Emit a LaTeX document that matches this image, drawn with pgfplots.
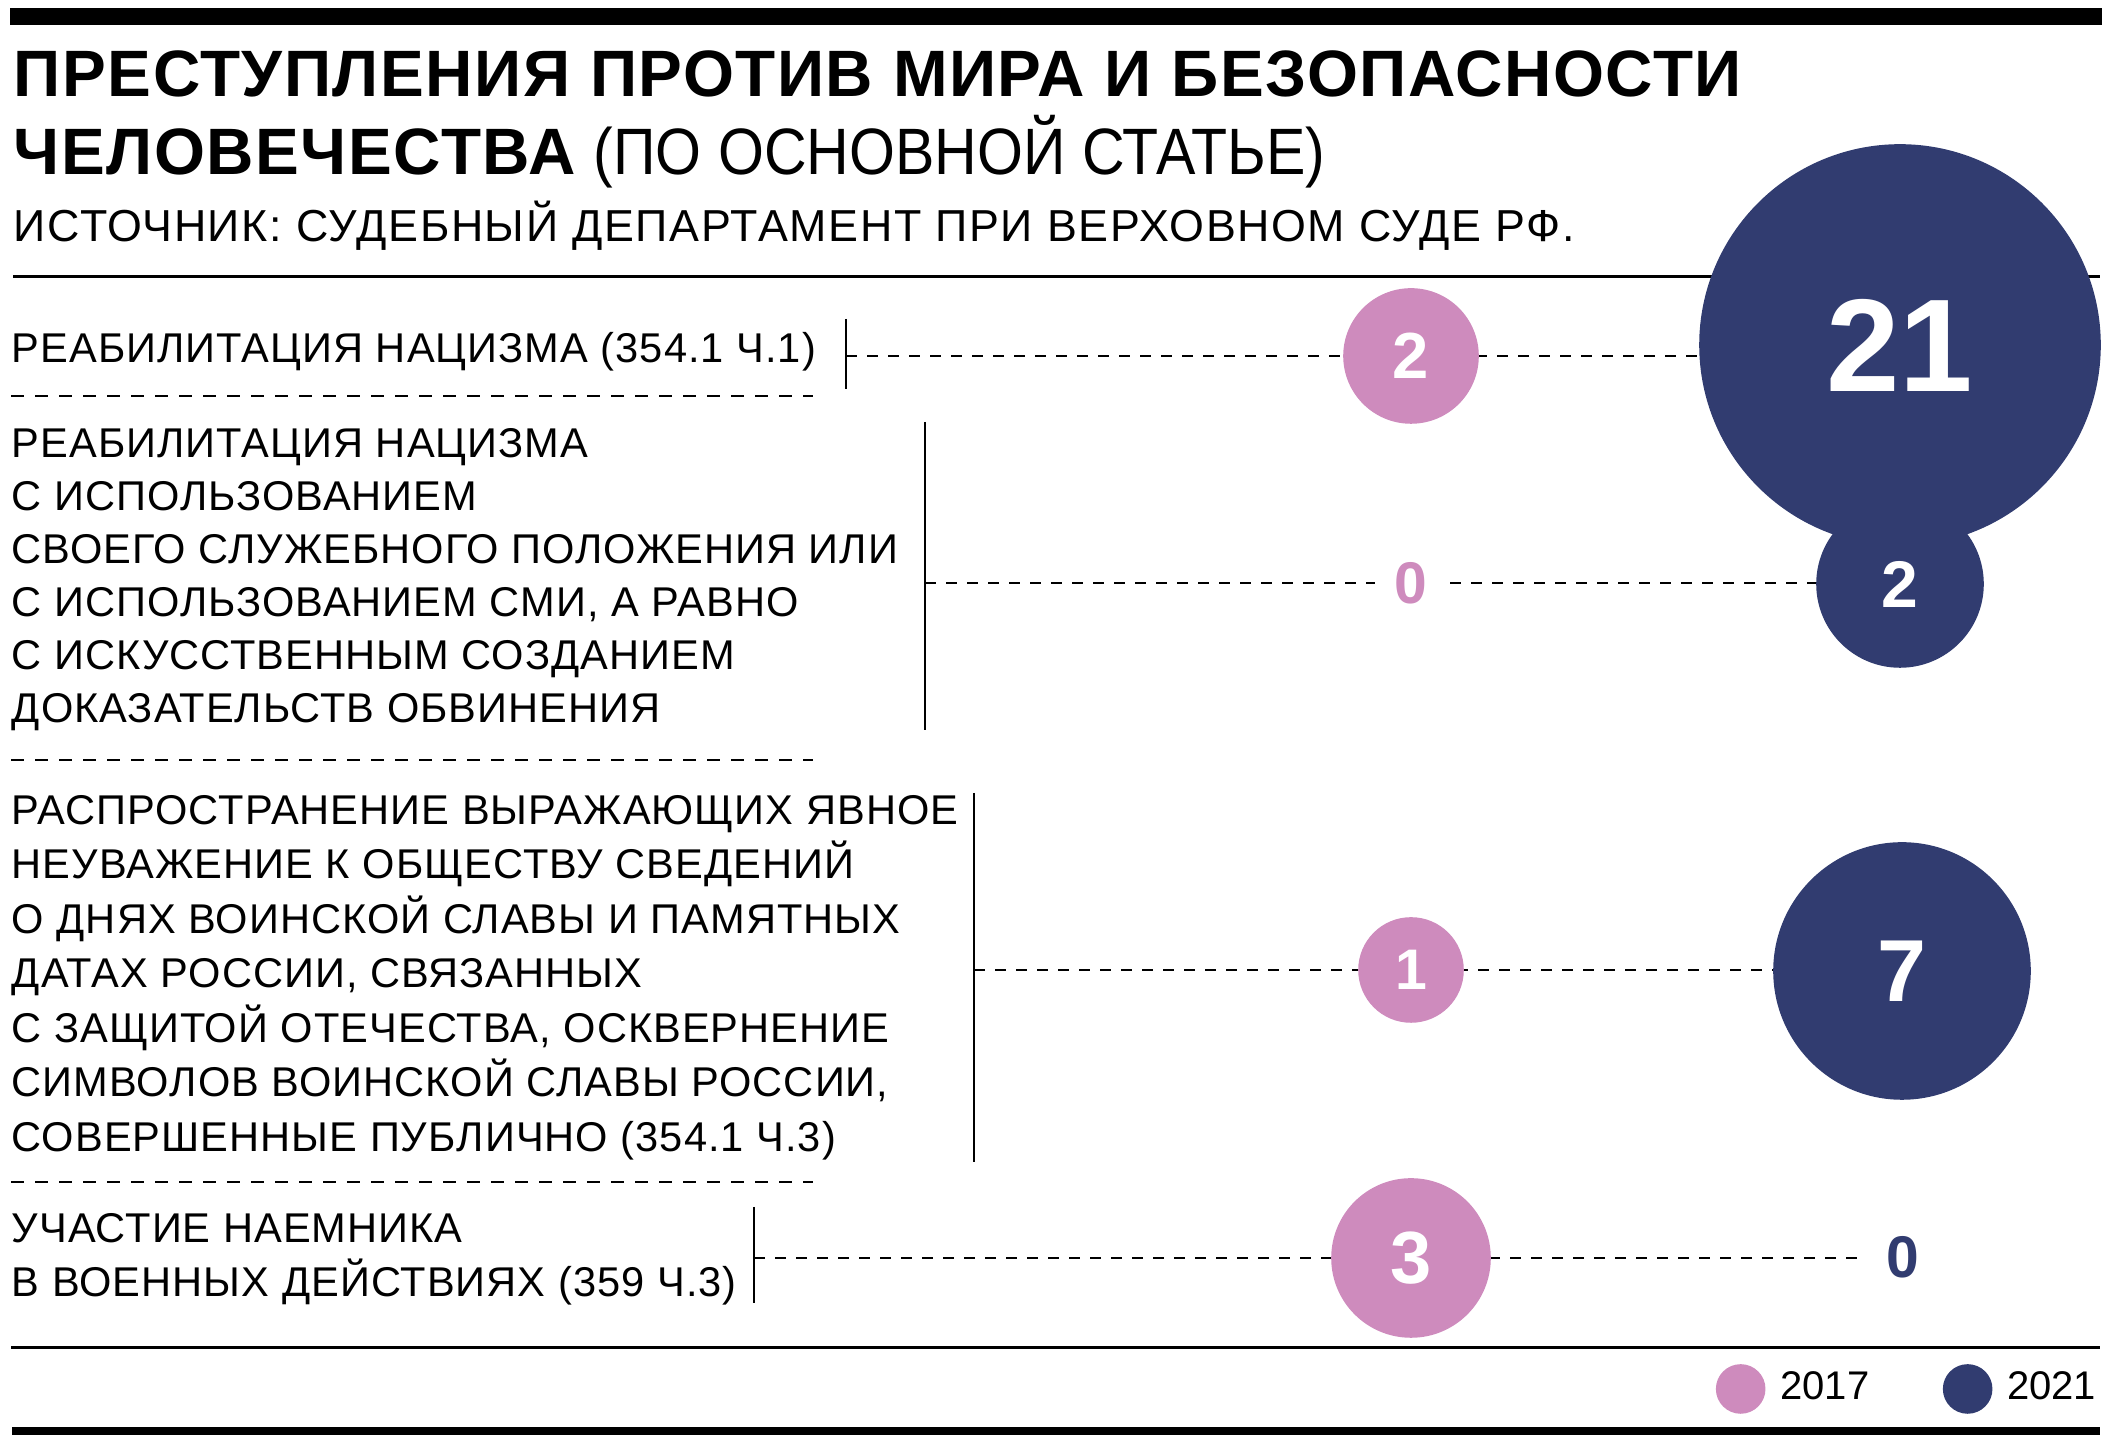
\documentclass[border=0pt]{standalone}
\usepackage{pgfplots}
\pgfplotsset{compat=1.18}
\usepackage{pgfplotstable}
\usepackage{fontspec}
\setmainfont{Liberation Sans}
\newfontfamily\labfont[LetterSpace=2.5]{Liberation Sans}
\newfontfamily\subfont[LetterSpace=3.6]{Liberation Sans}
\newfontfamily\headfont[LetterSpace=2.3]{Liberation Sans}
\newfontfamily\condfont[FakeStretch=0.9]{Liberation Sans}

\definecolor{pinkc}{HTML}{CE8BBD}
\definecolor{navyc}{HTML}{313C70}
\setlength{\fboxsep}{5pt}

% x, y: bubble centre (px of the 2112x1452 picture, y from the bottom), v: count, r: radius (px), fs: label size (pt)
\pgfplotstableread{
x    y    v  r   fs
1411 1096 2  67  16.3
1411 869  0  0   14.7
1411 482  1  52  14.3
1411 194  3  79  18.5
}\yearA
\pgfplotstableread{
x    y    v  r   fs
1900 1107 21 200 33
1900 868  2  83  16.5
1902 481  7  128 22
1903 195  0  0   14.7
}\yearB

\tikzset{lab/.style={anchor=base west, inner sep=0pt, font=\labfont\fontsize{10.4}{10.4}\selectfont}}
\pgfplotsset{
  bubble/.style={scatter, only marks, mark=*,
    visualization depends on={\thisrow{r} \as \rad},
    scatter/use mapped color={draw=#1, fill=#1, mark size=\rad/4},
    legend image code/.code={\fill[#1] (0pt,0pt) circle (6pt);}},
  valuelabel/.style={draw=none, mark=none, forget plot,
    /pgf/number format/assume math mode=true,
    visualization depends on={\thisrow{v} \as \val},
    visualization depends on={\thisrow{fs} \as \fsz},
    nodes near coords={\bfseries\fontsize{\fsz}{\fsz}\selectfont\ifdim\val pt=0pt \colorbox{white}{\textcolor{#1}{0}}\else\textcolor{white}{\pgfmathprintnumber{\val}}\fi},
    nodes near coords style={anchor=center, inner sep=0pt}},
}

\begin{document}
\begin{tikzpicture}
\begin{axis}[
    x=0.25pt, y=0.25pt,
    xmin=0, xmax=2112, ymin=0, ymax=1452,
    hide axis, clip=false,
    legend style={at={(axis description cs:0.9967,0.0434)}, anchor=east, draw=none, fill=none, inner sep=0pt,
        legend columns=-1, font=\fontsize{10}{10}\selectfont,
        /tikz/every odd column/.append style={column sep=1.7pt},
        /tikz/every even column/.append style={column sep=16.4pt}},
]
\coordinate (BL) at (axis cs:0,0);
\coordinate (TR) at (axis cs:2112,1452);

% frame lines
\draw[line width=4.25pt] (axis cs:10,1435.5) -- (axis cs:2102,1435.5);
\draw[line width=0.75pt] (axis cs:13,1175) -- (axis cs:2100,1175);
\draw[line width=0.75pt] (axis cs:11,104) -- (axis cs:2100,104);
\draw[line width=2pt] (axis cs:12,21) -- (axis cs:2100,21);

% title
\node[anchor=base west, inner sep=0pt, font=\headfont\bfseries\fontsize{16.4}{16.4}\selectfont] at (axis cs:13,1355) {ПРЕСТУПЛЕНИЯ ПРОТИВ МИРА И БЕЗОПАСНОСТИ};
\node[anchor=base west, inner sep=0pt, font=\fontsize{16.4}{16.4}\selectfont] at (axis cs:13,1277) {{\headfont\bfseries ЧЕЛОВЕЧЕСТВА} {\condfont (ПО ОСНОВНОЙ СТАТЬЕ)}};
\node[anchor=base west, inner sep=0pt, font=\subfont\fontsize{11.2}{11.2}\selectfont] at (axis cs:13,1210) {ИСТОЧНИК: СУДЕБНЫЙ ДЕПАРТАМЕНТ ПРИ ВЕРХОВНОМ СУДЕ РФ.};

% row labels
\node[lab] at (axis cs:11,1089) {РЕАБИЛИТАЦИЯ НАЦИЗМА (354.1 Ч.1)};
\node[lab] at (axis cs:11,994) {РЕАБИЛИТАЦИЯ НАЦИЗМА};
\node[lab] at (axis cs:11,941) {С ИСПОЛЬЗОВАНИЕМ};
\node[lab] at (axis cs:11,888) {СВОЕГО СЛУЖЕБНОГО ПОЛОЖЕНИЯ ИЛИ};
\node[lab] at (axis cs:11,835) {С ИСПОЛЬЗОВАНИЕМ СМИ, А РАВНО};
\node[lab] at (axis cs:11,782) {С ИСКУССТВЕННЫМ СОЗДАНИЕМ};
\node[lab] at (axis cs:11,729) {ДОКАЗАТЕЛЬСТВ ОБВИНЕНИЯ};
\node[lab] at (axis cs:11,627) {РАСПРОСТРАНЕНИЕ ВЫРАЖАЮЩИХ ЯВНОЕ};
\node[lab] at (axis cs:11,573) {НЕУВАЖЕНИЕ К ОБЩЕСТВУ СВЕДЕНИЙ};
\node[lab] at (axis cs:11,518) {О ДНЯХ ВОИНСКОЙ СЛАВЫ И ПАМЯТНЫХ};
\node[lab] at (axis cs:11,464) {ДАТАХ РОССИИ, СВЯЗАННЫХ};
\node[lab] at (axis cs:11,409) {С ЗАЩИТОЙ ОТЕЧЕСТВА, ОСКВЕРНЕНИЕ};
\node[lab] at (axis cs:11,355) {СИМВОЛОВ ВОИНСКОЙ СЛАВЫ РОССИИ,};
\node[lab] at (axis cs:11,300) {СОВЕРШЕННЫЕ ПУБЛИЧНО (354.1 Ч.3)};
\node[lab] at (axis cs:11,209) {УЧАСТИЕ НАЕМНИКА};
\node[lab] at (axis cs:11,155) {В ВОЕННЫХ ДЕЙСТВИЯХ (359 Ч.3)};

% brackets and separators
\draw[line width=0.5pt] (axis cs:846,1133) -- (axis cs:846,1063);
\draw[line width=0.5pt] (axis cs:925,1030) -- (axis cs:925,722);
\draw[line width=0.5pt] (axis cs:974,659) -- (axis cs:974,290);
\draw[line width=0.5pt] (axis cs:754,245) -- (axis cs:754,149);
\draw[line width=0.5pt, dash pattern=on 3.25pt off 2.75pt] (axis cs:11,1056) -- (axis cs:813,1056);
\draw[line width=0.5pt, dash pattern=on 3.25pt off 2.75pt] (axis cs:11,692) -- (axis cs:813,692);
\draw[line width=0.5pt, dash pattern=on 3.25pt off 2.75pt] (axis cs:11,270) -- (axis cs:813,270);

% row leaders
\draw[line width=0.5pt, dash pattern=on 2.75pt off 2.5pt] (axis cs:846,1096) -- (axis cs:1900,1096);
\draw[line width=0.5pt, dash pattern=on 2.75pt off 2.5pt] (axis cs:925,869) -- (axis cs:1900,869);
\draw[line width=0.5pt, dash pattern=on 2.75pt off 2.5pt] (axis cs:974,482) -- (axis cs:1900,482);
\draw[line width=0.5pt, dash pattern=on 2.75pt off 2.5pt] (axis cs:754,194) -- (axis cs:1903,194);

\addplot[bubble=pinkc] table[x=x, y=y] {\yearA};
\addlegendentry{2017}
\addplot[bubble=navyc] table[x=x, y=y] {\yearB};
\addlegendentry{2021}
\addplot[valuelabel=pinkc] table[x=x, y=y] {\yearA};
\addplot[valuelabel=navyc] table[x=x, y=y] {\yearB};
\end{axis}
\pgfresetboundingbox
\path[use as bounding box] (BL) rectangle (TR);
\end{tikzpicture}
\end{document}
